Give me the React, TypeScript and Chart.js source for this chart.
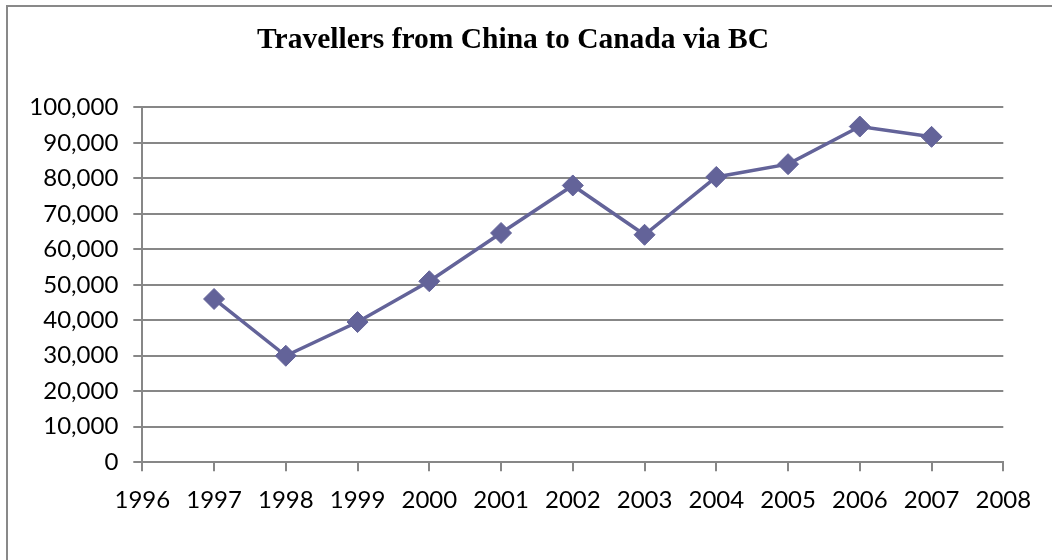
import React, { useEffect, useRef } from "react";
import { Chart, registerables } from "chart.js";

Chart.register(...registerables);

const TITLE = "Travellers from China to Canada via BC";
const YEARS = [1997, 1998, 1999, 2000, 2001, 2002, 2003, 2004, 2005, 2006, 2007];
const TRAVELLERS = [46000, 30000, 39500, 51000, 64600, 78000, 64100, 80400, 84000, 94600, 91700];
const X_MIN = 1996;
const X_MAX = 2008;
const Y_MIN = 0;
const Y_MAX = 100000;
const Y_STEP = 10000;

const GRID = "#878787";
const SERIES = "#636399";
const TICK_FONT = { family: "Lato, 'Liberation Sans', sans-serif", size: 24 };

export default function App() {
  const ref = useRef<HTMLCanvasElement | null>(null);

  useEffect(() => {
    if (!ref.current) return;
    const chart = new Chart(ref.current, {
      type: "line",
      data: {
        datasets: [
          {
            data: YEARS.map((y, i) => ({ x: y, y: TRAVELLERS[i] })),
            borderColor: SERIES,
            backgroundColor: SERIES,
            borderWidth: 3.5,
            pointStyle: "rectRot",
            pointRadius: 10.5,
            pointBorderWidth: 1,
            pointBackgroundColor: SERIES,
            pointBorderColor: SERIES,
            tension: 0,
          },
        ],
      },
      options: {
        animation: false,
        responsive: false,
        maintainAspectRatio: false,
        layout: { padding: { left: 22.7, right: 48.7, top: 0, bottom: 30 } },
        plugins: {
          legend: { display: false },
          tooltip: { enabled: false },
          title: {
            display: true,
            text: TITLE,
            color: "#000",
            font: { family: "'Liberation Serif', serif", size: 29.5, weight: "bold" },
            padding: { top: 23, bottom: 49 },
          },
        },
        scales: {
          x: {
            type: "linear",
            min: X_MIN,
            max: X_MAX,
            ticks: {
              stepSize: 1,
              color: "#000",
              font: TICK_FONT,
              padding: 15,
              maxRotation: 0,
              autoSkip: false,
              callback: (v: any) => String(v),
            },
            grid: {
              drawOnChartArea: false,
              drawTicks: true,
              tickLength: 9,
              color: GRID,
              lineWidth: 2,
            },
            border: { display: true, color: GRID, width: 2 },
          },
          y: {
            min: Y_MIN,
            max: Y_MAX,
            afterFit: (s: any) => {
              s.width = 119.6;
            },
            ticks: {
              stepSize: Y_STEP,
              color: "#000",
              font: TICK_FONT,
              padding: 15,
              callback: (v: any) => Number(v).toLocaleString("en-US"),
            },
            grid: {
              drawOnChartArea: true,
              drawTicks: true,
              tickLength: 9,
              color: GRID,
              lineWidth: 2,
            },
            border: { display: true, color: GRID, width: 2 },
          },
        },
      },
    });
    return () => chart.destroy();
  }, []);

  return (
    <div style={{ position: "fixed", left: 0, top: 0, width: 1052, height: 560, overflow: "hidden", background: "#fff" }}>
      <div
        style={{
          position: "absolute",
          left: 6,
          top: 5,
          width: 1200,
          height: 700,
          border: "2px solid #898989",
        }}
      />
      <canvas ref={ref} width={1052} height={560} style={{ position: "absolute", left: 0, top: 0 }} />
    </div>
  );
}
